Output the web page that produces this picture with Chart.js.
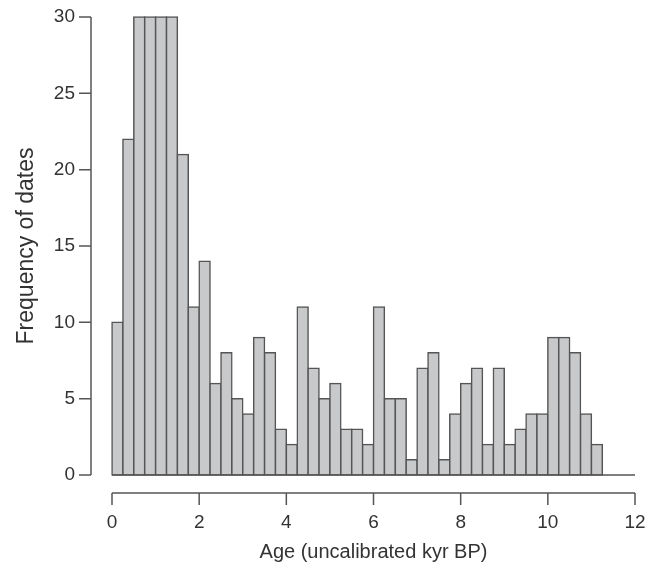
<!DOCTYPE html>
<html lang="en">
<head>
  <meta charset="UTF-8">
  <title>Frequency of dates</title>
  <script src="https://cdn.jsdelivr.net/npm/chart.js"></script>
  <style>
    body { margin: 0; background: #fff; }
    canvas { display: block; }
  </style>
</head>
<body>
  <canvas id="histChart" width="660" height="565"></canvas>
  <script>
    // 0.25 kyr bins, left edge of the first bin at 0
    const binCentres = [
      0.125, 0.375, 0.625, 0.875, 1.125, 1.375, 1.625, 1.875, 2.125, 2.375,
      2.625, 2.875, 3.125, 3.375, 3.625, 3.875, 4.125, 4.375, 4.625, 4.875,
      5.125, 5.375, 5.625, 5.875, 6.125, 6.375, 6.625, 6.875, 7.125, 7.375,
      7.625, 7.875, 8.125, 8.375, 8.625, 8.875, 9.125, 9.375, 9.625, 9.875,
      10.125, 10.375, 10.625, 10.875, 11.125
    ];
    const counts = [
      10, 22, 30, 30, 30, 30, 21, 11, 14, 6,
      8, 5, 4, 9, 8, 3, 2, 11, 7, 5,
      6, 3, 3, 2, 11, 5, 5, 1, 7, 8,
      1, 4, 6, 7, 2, 7, 2, 3, 4, 4,
      9, 9, 8, 4, 2
    ];
    const xTicks = [0, 2, 4, 6, 8, 10, 12];
    const yTicks = [0, 5, 10, 15, 20, 25, 30];

    const ink = '#555555';
    const textInk = '#333333';
    const fontFamily = '"Liberation Sans", Arial, sans-serif';

    // R style axes sit away from the plot, so the lines are drawn here
    const detachedAxes = {
      id: 'detachedAxes',
      afterDatasetsDraw(chart) {
        const { ctx, scales: { x, y } } = chart;
        ctx.save();
        ctx.strokeStyle = ink;
        ctx.lineWidth = 1.5;
        ctx.beginPath();
        // baseline of the histogram
        ctx.moveTo(x.getPixelForValue(0), y.getPixelForValue(0));
        ctx.lineTo(x.getPixelForValue(12), y.getPixelForValue(0));
        // x axis
        const ax = y.getPixelForValue(0) + 18;
        ctx.moveTo(x.getPixelForValue(0), ax);
        ctx.lineTo(x.getPixelForValue(12), ax);
        xTicks.forEach(t => {
          ctx.moveTo(x.getPixelForValue(t), ax);
          ctx.lineTo(x.getPixelForValue(t), ax + 12);
        });
        // y axis
        const ay = x.getPixelForValue(0) - 21;
        ctx.moveTo(ay, y.getPixelForValue(0));
        ctx.lineTo(ay, y.getPixelForValue(30));
        yTicks.forEach(t => {
          ctx.moveTo(ay, y.getPixelForValue(t));
          ctx.lineTo(ay - 12, y.getPixelForValue(t));
        });
        ctx.stroke();
        ctx.restore();
      }
    };

    // fixed plot box: no room reserved for tick labels or their padding
    function fixBox(s, w, h) {
      if (w) s.width = w;
      if (h) s.height = h;
      s.paddingLeft = s.paddingRight = s.paddingTop = s.paddingBottom = 0;
    }

    new Chart(document.getElementById('histChart'), {
      type: 'bar',
      data: {
        datasets: [{
          data: binCentres.map((c, i) => ({ x: c, y: counts[i] })),
          backgroundColor: '#c8c9cb',
          borderColor: ink,
          borderWidth: 1.5,
          borderSkipped: false,
          inflateAmount: 0.75,
          barPercentage: 1,
          categoryPercentage: 1,
          clip: false
        }]
      },
      options: {
        responsive: false,
        animation: false,
        layout: { autoPadding: false, padding: { top: 17, right: 25 } },
        plugins: { legend: { display: false }, tooltip: { enabled: false } },
        scales: {
          x: {
            type: 'linear',
            offset: false,
            min: 0,
            max: 12,
            afterFit(s) { fixBox(s, 0, 90); },
            afterBuildTicks(s) { s.ticks = xTicks.map(v => ({ value: v })); },
            grid: { display: false, drawTicks: false },
            border: { display: false },
            ticks: {
              padding: 36,
              maxRotation: 0,
              autoSkip: false,
              color: textInk,
              font: { family: fontFamily, size: 19 }
            },
            title: {
              display: true,
              text: 'Age (uncalibrated kyr BP)',
              color: textInk,
              font: { family: fontFamily, size: 20 },
              padding: { top: 0, bottom: 1 }
            }
          },
          y: {
            min: 0,
            max: 30,
            afterFit(s) { fixBox(s, 112, 0); },
            afterBuildTicks(s) { s.ticks = yTicks.map(v => ({ value: v })); },
            grid: { display: false, drawTicks: false },
            border: { display: false },
            ticks: {
              padding: 37,
              color: textInk,
              font: { family: fontFamily, size: 19 }
            },
            title: {
              display: true,
              text: 'Frequency of dates',
              color: textInk,
              font: { family: fontFamily, size: 23 },
              padding: { top: 13, bottom: 0 }
            }
          }
        }
      },
      plugins: [detachedAxes]
    });
  </script>
</body>
</html>
